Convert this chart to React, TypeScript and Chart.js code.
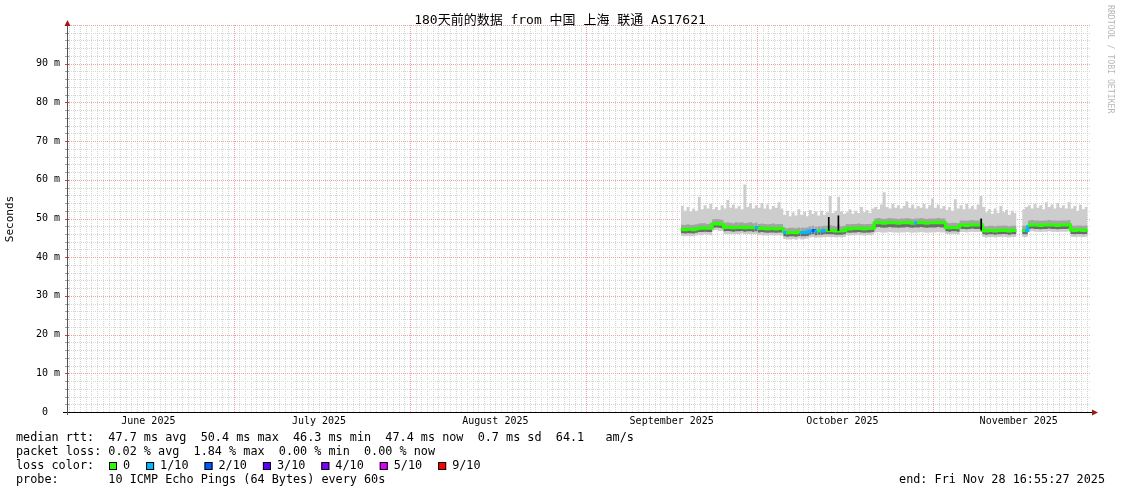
import React, { useEffect, useRef } from 'react';
import { Chart, registerables } from 'chart.js';

Chart.register(...registerables);

const FONT = '"DejaVu Sans Mono", "Noto Sans CJK SC", monospace';

const chartTitle = '180天前的数据 from 中国 上海 联通 AS17621';
const yAxisTitle = 'Seconds';
const watermark = 'RRDTOOL / TOBI OETIKER';

// time axis in days since 2025-06-01 00:00
const xMinDay = 0.7;
const xMaxDay = 180.7;
const monthStartDays = [30, 61, 92, 122, 153];
const monthLabelDays = [15, 45, 76, 107, 137, 168];
const monthLabels = ['June 2025', 'July 2025', 'August 2025', 'September 2025', 'October 2025', 'November 2025'];

// value axis in ms
const yMax = 100;
const yMinorStep = 2;
const yLabelValues = [0, 10, 20, 30, 40, 50, 60, 70, 80, 90];

// samples
const sampleStartDay = 108.6;
const sampleStepDay = 0.5;

const median: (number | null)[] = [
  47.2, 47.1, 47.2, 47.2, 47.1, 47.3,
  47.5, 47.5, 47.6, 47.5, 47.5,
  48.6, 48.7, 48.6, 48.5,
  47.7, 47.8, 47.7, 47.6, 47.7, 47.7, 47.8, 47.6, 47.7, 47.7, 47.6, 47.7,
  47.4, 47.5, 47.4, 47.3, 47.4, 47.4, 47.3, 47.4, 47.4,
  46.4, 46.3, 46.4, 46.4, 46.3, 46.5, 46.4, 46.4, 46.5,
  46.8, 46.9, 46.7, 46.8, 46.8, 46.9,
  46.9, 46.9, 46.9, 46.8, 46.8, 46.8, 46.9,
  47.4, 47.3, 47.4, 47.4, 47.5, 47.4, 47.3, 47.4, 47.4, 47.5,
  48.9, 49.0, 48.9, 48.8, 48.9, 49.0, 48.9, 48.9, 48.8, 48.9, 48.9, 49.0, 48.9, 48.8, 48.9, 48.9, 49.0, 48.9, 48.8, 48.9, 48.9, 48.9, 49.0, 48.9, 48.9,
  47.7, 47.6, 47.7, 47.7, 47.6,
  48.3, 48.3, 48.2, 48.3, 48.4, 48.3, 48.3,
  48.4,
  46.9, 46.8, 46.9, 46.9, 46.8, 46.9, 46.9, 47.0, 46.9, 46.8, 46.9, 46.9, 46.9,
  null,
  46.9, 46.9,
  48.3, 48.4, 48.3, 48.3, 48.2, 48.3, 48.3, 48.4, 48.3, 48.3, 48.2, 48.3, 48.3, 48.3, 48.4,
  47.0, 46.9, 47.0, 47.0, 46.9, 47.0, 47.0,
];

const smokeTop: (number | null)[] = [
  53.2, 52.0, 53.0, 51.8, 52.6, 52.0,
  55.6, 52.4, 53.4, 52.6, 53.8,
  52.4, 53.0, 52.2, 53.4,
  52.6, 54.8, 52.8, 53.6, 52.6, 53.2, 52.4, 58.8, 53.0, 54.0, 52.6, 53.4,
  52.8, 54.0, 52.6, 53.6, 52.4, 53.2, 52.8, 54.2, 52.6,
  51.0, 52.0, 50.6, 51.6, 50.8, 52.4, 51.0, 51.8, 50.6,
  52.2, 51.2, 51.8, 50.8, 52.0, 51.0,
  51.6, 55.8, 51.4, 52.0, 55.6, 51.8, 51.2,
  51.6, 52.4, 51.2, 52.0, 51.4, 53.0, 51.6, 52.2, 51.4, 52.6,
  53.0, 52.4, 53.6, 56.8, 53.0, 52.6, 53.8, 52.8, 53.4, 52.6, 53.2, 54.4, 52.8, 53.6, 52.6, 53.2, 52.8, 53.8, 52.6, 53.4, 55.2, 52.8, 53.6, 52.6, 53.2,
  52.2, 53.0, 52.0, 55.0, 52.6,
  53.4, 52.4, 53.8, 52.6, 53.2, 52.4, 53.6,
  55.8,
  53.0, 51.6, 52.4, 51.2, 52.6, 51.4, 53.2, 51.6, 52.2, 51.0, 52.0, 51.4, 50.8,
  null,
  52.4, 53.0,
  53.4, 52.6, 53.8, 52.8, 53.4, 52.4, 54.2, 53.0, 53.6, 52.6, 54.0, 52.8, 53.4, 52.6, 54.2,
  52.6, 53.2, 52.0, 53.6, 52.4, 53.0, 52.2,
];

const smokeBottom: (number | null)[] = [
  45.5, 45.4, 45.5, 45.4, 45.4, 45.6,
  45.8, 45.7, 45.9, 45.8, 45.7,
  46.9, 47.0, 46.8, 46.8,
  46.0, 46.0, 45.9, 45.9, 46.0, 45.9, 46.1, 45.9, 46.0, 45.9, 45.9, 46.0,
  45.7, 45.7, 45.6, 45.6, 45.7, 45.6, 45.6, 45.7, 45.6,
  44.7, 44.6, 44.6, 44.7, 44.5, 44.8, 44.6, 44.7, 44.8,
  45.1, 45.2, 45.0, 45.1, 45.1, 45.2,
  45.2, 45.2, 45.2, 45.1, 45.2, 45.1, 45.2,
  45.7, 45.6, 45.7, 45.7, 45.8, 45.7, 45.6, 45.7, 45.7, 45.8,
  46.4, 46.5, 46.4, 46.3, 46.4, 46.5, 46.4, 46.4, 46.3, 46.4, 46.4, 46.5, 46.4, 46.3, 46.4, 46.4, 46.5, 46.4, 46.3, 46.4, 46.4, 46.4, 46.5, 46.4, 46.4,
  46.0, 45.9, 46.0, 46.0, 45.9,
  46.5, 46.5, 46.4, 46.5, 46.6, 46.5, 46.5,
  46.5,
  45.2, 45.1, 45.2, 45.2, 45.1, 45.2, 45.2, 45.3, 45.2, 45.1, 45.2, 45.2, 45.2,
  null,
  45.2, 45.2,
  46.6, 46.7, 46.6, 46.6, 46.5, 46.6, 46.6, 46.7, 46.6, 46.6, 46.5, 46.6, 46.6, 46.6, 46.7,
  45.3, 45.2, 45.3, 45.3, 45.2, 45.3, 45.3,
];

const innerHigh: (number | null)[] = [
  48.4, 48.3, 48.5, 48.3, 48.4, 48.5,
  48.7, 48.8, 48.8, 48.6, 48.8,
  49.8, 49.9, 49.8, 49.7,
  48.9, 49.0, 48.9, 48.8, 49.0, 48.9, 49.0, 48.8, 48.9, 49.0, 48.8, 48.9,
  48.6, 48.7, 48.6, 48.5, 48.6, 48.7, 48.5, 48.6, 48.6,
  47.6, 47.5, 47.6, 47.6, 47.5, 47.7, 47.6, 47.6, 47.7,
  48.0, 48.1, 47.9, 48.0, 48.0, 48.1,
  48.1, 48.3, 48.1, 48.0, 48.4, 48.0, 48.1,
  48.6, 48.5, 48.6, 48.6, 48.7, 48.6, 48.5, 48.6, 48.6, 48.7,
  50.0, 50.1, 50.0, 49.9, 50.0, 50.1, 50.0, 50.0, 49.9, 50.0, 50.0, 50.1, 50.0, 49.9, 50.0, 50.0, 50.1, 50.0, 49.9, 50.0, 50.0, 50.0, 50.1, 50.0, 50.0,
  48.9, 48.8, 48.9, 48.9, 48.8,
  49.5, 49.5, 49.4, 49.5, 49.6, 49.5, 49.5,
  49.8,
  48.1, 48.0, 48.1, 48.1, 48.0, 48.1, 48.1, 48.2, 48.1, 48.0, 48.1, 48.1, 48.1,
  null,
  48.1, 48.1,
  49.5, 49.6, 49.5, 49.5, 49.4, 49.5, 49.5, 49.6, 49.5, 49.5, 49.4, 49.5, 49.5, 49.5, 49.6,
  48.2, 48.1, 48.2, 48.2, 48.1, 48.2, 48.2,
];

const innerLow: (number | null)[] = [
  46.2, 46.1, 46.2, 46.2, 46.1, 46.3,
  46.5, 46.5, 46.6, 46.5, 46.5,
  47.6, 47.7, 47.6, 47.5,
  46.7, 46.8, 46.7, 46.6, 46.7, 46.7, 46.8, 46.6, 46.7, 46.7, 46.6, 46.7,
  46.4, 46.5, 46.4, 46.3, 46.4, 46.4, 46.3, 46.4, 46.4,
  45.4, 45.3, 45.4, 45.4, 45.3, 45.5, 45.4, 45.4, 45.5,
  45.8, 45.9, 45.7, 45.8, 45.8, 45.9,
  45.9, 45.9, 45.9, 45.8, 45.8, 45.8, 45.9,
  46.4, 46.3, 46.4, 46.4, 46.5, 46.4, 46.3, 46.4, 46.4, 46.5,
  47.7, 47.8, 47.7, 47.6, 47.7, 47.8, 47.7, 47.7, 47.6, 47.7, 47.7, 47.8, 47.7, 47.6, 47.7, 47.7, 47.8, 47.7, 47.6, 47.7, 47.7, 47.7, 47.8, 47.7, 47.7,
  46.7, 46.6, 46.7, 46.7, 46.6,
  47.3, 47.3, 47.2, 47.3, 47.4, 47.3, 47.3,
  47.3,
  45.9, 45.8, 45.9, 45.9, 45.8, 45.9, 45.9, 46.0, 45.9, 45.8, 45.9, 45.9, 45.9,
  null,
  45.9, 45.9,
  47.3, 47.4, 47.3, 47.3, 47.2, 47.3, 47.3, 47.4, 47.3, 47.3, 47.2, 47.3, 47.3, 47.3, 47.4,
  46.0, 45.9, 46.0, 46.0, 45.9, 46.0, 46.0,
];

// [sample index, lost pings out of 10]
const lossEvents: [number, number][] = [
  [26, 1], [36, 1], [42, 1], [43, 1], [44, 1], [45, 1], [46, 2], [47, 1], [49, 1], [50, 1], [82, 1], [121, 1],
];

// short dark median excursions
const spikeDays = [134.6, 136.3, 161.4];
const spikeLow = [46.9, 46.9, 47.0];
const spikeHigh = [50.3, 50.7, 49.9];

const lossLegendLabels = ['0', '1/10', '2/10', '3/10', '4/10', '5/10', '9/10'];
const lossLegendColors = ['#26ff00', '#00b8ff', '#0059ff', '#5e00ff', '#7e00ff', '#dd00ff', '#ff0000'];
const lossColorByCount: Record<number, string> = { 0: '#26ff00', 1: '#00b8ff', 2: '#0059ff', 3: '#5e00ff', 4: '#7e00ff', 5: '#dd00ff', 9: '#ff0000' };

const legendRtt = 'median rtt:  47.7 ms avg  50.4 ms max  46.3 ms min  47.4 ms now  0.7 ms sd  64.1   am/s';
const legendLoss = 'packet loss: 0.02 % avg  1.84 % max  0.00 % min  0.00 % now';
const legendLossColor = 'loss color:';
const legendProbe = 'probe:       10 ICMP Echo Pings (64 Bytes) every 60s';
const legendEnd = 'end: Fri Nov 28 16:55:27 2025';

const MAJOR_GRID = '#f3a0a0';
const MINOR_GRID = '#d6d6d6';

export default function App() {
  const ref = useRef<HTMLCanvasElement>(null);

  useEffect(() => {
    const canvas = ref.current;
    if (!canvas) return;
    const xs = median.map((_, i) => sampleStartDay + i * sampleStepDay);
    const toPts = (arr: (number | null)[]) => arr.map((v, i) => ({ x: xs[i], y: v }));
    const lossMap = new Map(lossEvents);
    const segColor = (i: number) => lossColorByCount[lossMap.get(i) ?? 0];

    const xGridDays: number[] = [];
    for (let d = Math.ceil(xMinDay); d <= xMaxDay; d++) xGridDays.push(d);
    const yGridVals: number[] = [];
    for (let v = yMinorStep; v <= yMax; v += yMinorStep) yGridVals.push(v);

    const decor = {
      id: 'decor',
      beforeDraw(chart: any) {
        const c = chart.ctx;
        c.save();
        c.fillStyle = '#ffffff';
        c.fillRect(0, 0, chart.width, chart.height);
        c.restore();
      },
      beforeDatasetsDraw(chart: any) {
        const ctx = chart.ctx as CanvasRenderingContext2D;
        const a = chart.chartArea;
        const xsc = chart.scales.x;
        const ysc = chart.scales.y;
        ctx.save();
        ctx.lineWidth = 1;
        ctx.setLineDash([1, 1]);
        const drawV = (d: number, col: string) => {
          const px = Math.round(xsc.getPixelForValue(d)) + 0.5;
          ctx.strokeStyle = col;
          ctx.beginPath();
          ctx.moveTo(px, a.bottom);
          ctx.lineTo(px, a.top);
          ctx.stroke();
        };
        const drawH = (v: number, col: string) => {
          const py = Math.round(ysc.getPixelForValue(v)) + 0.5;
          ctx.strokeStyle = col;
          ctx.beginPath();
          ctx.moveTo(a.left, py);
          ctx.lineTo(a.right, py);
          ctx.stroke();
        };
        xGridDays.filter((d) => !monthStartDays.includes(d)).forEach((d) => drawV(d, MINOR_GRID));
        yGridVals.filter((v) => v % 10 !== 0).forEach((v) => drawH(v, MINOR_GRID));
        monthStartDays.forEach((d) => drawV(d, MAJOR_GRID));
        yGridVals.filter((v) => v % 10 === 0).forEach((v) => drawH(v, MAJOR_GRID));
        // axis tick marks
        ctx.setLineDash([]);
        yGridVals.forEach((v) => {
          const py = Math.round(ysc.getPixelForValue(v)) + 0.5;
          ctx.strokeStyle = v % 10 === 0 ? '#d04040' : '#a0a0a0';
          ctx.beginPath();
          ctx.moveTo(a.left - 2, py);
          ctx.lineTo(a.left + 2, py);
          ctx.stroke();
        });
        ctx.restore();
      },
      afterDraw(chart: any) {
        const ctx = chart.ctx as CanvasRenderingContext2D;
        const a = chart.chartArea;
        ctx.save();
        // axes
        ctx.lineWidth = 1;
        ctx.strokeStyle = '#000000';
        ctx.beginPath();
        ctx.moveTo(a.left - 4, a.bottom + 0.5);
        ctx.lineTo(a.right + 2, a.bottom + 0.5);
        ctx.stroke();
        ctx.strokeStyle = '#555555';
        ctx.beginPath();
        ctx.moveTo(a.left + 0.5, a.bottom + 3);
        ctx.lineTo(a.left + 0.5, a.top - 3);
        ctx.stroke();
        // arrows
        ctx.fillStyle = '#a01818';
        ctx.beginPath();
        ctx.moveTo(a.left + 0.5, a.top - 5);
        ctx.lineTo(a.left - 2.5, a.top + 1);
        ctx.lineTo(a.left + 3.5, a.top + 1);
        ctx.closePath();
        ctx.fill();
        ctx.beginPath();
        ctx.moveTo(a.right + 7, a.bottom + 0.5);
        ctx.lineTo(a.right + 1, a.bottom - 2.5);
        ctx.lineTo(a.right + 1, a.bottom + 3.5);
        ctx.closePath();
        ctx.fill();

        // title
        ctx.fillStyle = '#000000';
        ctx.font = `13px ${FONT}`;
        ctx.textAlign = 'center';
        ctx.textBaseline = 'middle';
        ctx.fillText(chartTitle, 560, 21);

        // y title
        ctx.save();
        ctx.translate(10, 219);
        ctx.rotate(-Math.PI / 2);
        ctx.font = `11px ${FONT}`;
        ctx.fillText(yAxisTitle, 0, 0);
        ctx.restore();

        // watermark
        ctx.save();
        ctx.translate(1110, 5);
        ctx.rotate(Math.PI / 2);
        ctx.font = `8.2px ${FONT}`;
        ctx.fillStyle = '#b8b8b8';
        ctx.textAlign = 'left';
        ctx.fillText(watermark, 0, 0);
        ctx.restore();

        // legend
        ctx.font = `11.8px ${FONT}`;
        ctx.textAlign = 'left';
        ctx.fillStyle = '#000000';
        ctx.fillText(legendRtt, 16, 438);
        ctx.fillText(legendLoss, 16, 452);
        ctx.fillText(legendLossColor, 16, 466);
        let bx = 109;
        lossLegendLabels.forEach((lab, k) => {
          ctx.fillStyle = lossLegendColors[k];
          ctx.fillRect(bx, 462, 8, 8);
          ctx.strokeStyle = '#000000';
          ctx.strokeRect(bx + 0.5, 462.5, 7, 7);
          ctx.fillStyle = '#000000';
          ctx.fillText(lab, bx + 14, 466);
          bx += 14 + ctx.measureText(lab).width + 16;
        });
        ctx.fillText(legendProbe, 16, 480);
        ctx.textAlign = 'right';
        ctx.fillText(legendEnd, 1105, 480);
        ctx.restore();
      },
    };

    const lineBase = {
      type: 'line',
      stepped: true as const,
      pointRadius: 0,
      tension: 0,
      spanGaps: false,
      borderColor: 'rgba(0,0,0,0)',
      borderWidth: 1,
    };

    const chart = new Chart(canvas, {
      type: 'line',
      data: {
        datasets: [
          {
            ...lineBase,
            label: 'median',
            data: toPts(median),
            borderColor: '#26ff00',
            borderWidth: 3,
            fill: false,
            order: 1,
            segment: { borderColor: (c: any) => segColor(c.p0DataIndex) },
          },
          {
            ...lineBase,
            label: 'smokeTop',
            data: toPts(smokeTop),
            fill: { target: 2 },
            backgroundColor: '#cdcdcd',
            order: 5,
          },
          {
            ...lineBase,
            label: 'smokeBottom',
            data: toPts(smokeBottom),
            fill: false,
            order: 6,
          },
          {
            ...lineBase,
            label: 'innerHigh',
            data: toPts(innerHigh),
            fill: { target: 0 },
            backgroundColor: '#a4a4a4',
            order: 3,
          },
          {
            ...lineBase,
            label: 'innerLow',
            data: toPts(innerLow),
            fill: { target: 0 },
            backgroundColor: '#6c6c6c',
            order: 2,
          },
          {
            type: 'bar',
            label: 'spikes',
            data: spikeDays.map((d, k) => ({ x: d, y: [spikeLow[k], spikeHigh[k]] })),
            backgroundColor: '#000000',
            borderWidth: 0,
            barThickness: 1,
            order: 0,
          },
        ] as any,
      },
      options: {
        responsive: false,
        maintainAspectRatio: false,
        animation: false,
        devicePixelRatio: 1,
        layout: { padding: { top: 25, right: 30, left: 0, bottom: 0 } },
        plugins: {
          legend: { display: false },
          tooltip: { enabled: false },
          title: { display: false },
        },
        scales: {
          x: {
            type: 'linear',
            min: xMinDay,
            max: xMaxDay,
            offset: false,
            afterBuildTicks: (s: any) => {
              s.ticks = monthLabelDays.map((d) => ({ value: d }));
            },
            afterFit: (s: any) => {
              s.height = 82;
            },
            ticks: {
              autoSkip: false,
              maxRotation: 0,
              minRotation: 0,
              padding: 3,
              color: '#000000',
              font: { family: FONT, size: 10 },
              callback: (v: any) => {
                const k = monthLabelDays.indexOf(Number(v));
                return k >= 0 ? monthLabels[k] : '';
              },
            },
            grid: { display: false, drawTicks: false, offset: false },
            border: { display: false },
          },
          y: {
            type: 'linear',
            min: 0,
            max: yMax,
            afterBuildTicks: (s: any) => {
              s.ticks = yLabelValues.map((v) => ({ value: v }));
            },
            afterFit: (s: any) => {
              s.width = 67;
            },
            ticks: {
              autoSkip: false,
              padding: 7,
              color: '#000000',
              font: { family: FONT, size: 10 },
              callback: (v: any) => {
                const n = Number(v);
                return n === 0 ? '0  ' : `${n} m`;
              },
            },
            grid: { display: false, drawTicks: false },
            border: { display: false },
          },
        },
      } as any,
      plugins: [decor],
    });

    return () => chart.destroy();
  }, []);

  return (
    <div style={{ position: 'absolute', left: 0, top: 0, width: 1121, height: 494, background: '#fff' }}>
      <canvas ref={ref} width={1121} height={494} style={{ width: 1121, height: 494, display: 'block' }} />
    </div>
  );
}
